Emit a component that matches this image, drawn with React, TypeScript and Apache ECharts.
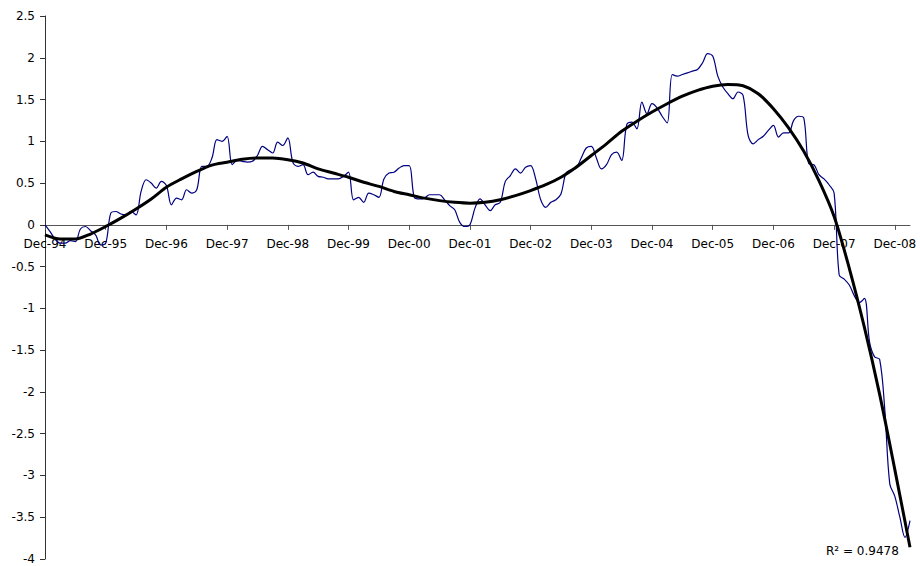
import React, { useEffect, useRef } from "react";
import * as echarts from "echarts";

// Month names used to build the monthly category labels (Dec-94 .. Mar-09)
const MONTH_NAMES = ["Jan", "Feb", "Mar", "Apr", "May", "Jun", "Jul", "Aug", "Sep", "Oct", "Nov", "Dec"];
const FIRST_MONTH = 11; // December
const FIRST_YEAR = 1994;
const MONTH_COUNT = 172;

const CATEGORIES: string[] = Array.from({ length: MONTH_COUNT }, (_, k) => {
  const m = (FIRST_MONTH + k) % 12;
  const y = FIRST_YEAR + Math.floor((FIRST_MONTH + k) / 12);
  return `${MONTH_NAMES[m]}-${String(y % 100).padStart(2, "0")}`;
});

// Monthly series (blue line)
const SERIES_VALUES: number[] = [
  0.0, -0.08, -0.17, -0.22, -0.22, -0.19, -0.2, -0.05, -0.02, -0.07, -0.12, -0.24,
  -0.22, 0.14, 0.16, 0.13, 0.12, 0.16, 0.12, 0.4, 0.54, 0.5, 0.44, 0.52,
  0.47, 0.24, 0.32, 0.3, 0.42, 0.38, 0.42, 0.7, 0.7, 0.8, 1.02, 1.0,
  1.06, 0.72, 0.77, 0.76, 0.75, 0.76, 0.83, 0.94, 0.9, 0.86, 0.99, 0.95,
  1.04, 0.75, 0.7, 0.72, 0.6, 0.63, 0.58, 0.57, 0.55, 0.55, 0.55, 0.58,
  0.63, 0.3, 0.33, 0.27, 0.38, 0.36, 0.33, 0.55, 0.62, 0.63, 0.68, 0.71,
  0.71, 0.33, 0.31, 0.32, 0.36, 0.36, 0.36, 0.3, 0.23, 0.18, 0.03, -0.02,
  0.0, 0.2, 0.31, 0.24, 0.17, 0.24, 0.27, 0.52, 0.59, 0.67, 0.62, 0.69,
  0.71, 0.55, 0.3, 0.21, 0.27, 0.3, 0.37, 0.62, 0.66, 0.68, 0.8, 0.92,
  0.94, 0.8, 0.67, 0.72, 0.84, 0.87, 0.77, 1.2, 1.23, 1.15, 1.47, 1.33,
  1.45, 1.4, 1.3, 1.22, 1.8, 1.78, 1.8, 1.82, 1.84, 1.86, 1.94, 2.05,
  2.02, 1.78, 1.65, 1.57, 1.51, 1.59, 1.55, 1.07, 0.97, 1.02, 1.06, 1.13,
  1.19, 1.05, 1.1, 1.1, 1.25, 1.3, 1.28, 0.73, 0.72, 0.6, 0.55, 0.48,
  0.38, -0.6, -0.65, -0.72, -0.85, -0.93, -0.88, -1.4, -1.58, -1.61, -2.2, -3.1,
  -3.25, -3.5, -3.74, -3.54,
];

// Trend line (polynomial fit), every 3 months
const TREND_MONTHS: number[] = [
  0, 3, 6, 9, 12, 15, 18, 21, 24, 27, 30, 33, 36, 39, 42, 45, 48, 51, 54, 57,
  60, 63, 66, 69, 72, 75, 78, 81, 84, 87, 90, 93, 96, 99, 102, 105, 108, 111, 114, 117,
  120, 123, 126, 129, 132, 135, 138, 141, 144, 147, 150, 153, 156, 159, 162, 165, 168, 171,
];
const TREND_VALUES: number[] = [
  -0.12, -0.17, -0.17, -0.11, -0.02, 0.08, 0.19, 0.31, 0.45, 0.55, 0.64, 0.715, 0.75, 0.785, 0.8, 0.8, 0.78, 0.74, 0.67, 0.62,
  0.57, 0.51, 0.46, 0.4, 0.36, 0.32, 0.29, 0.27, 0.26, 0.27, 0.3, 0.35, 0.41, 0.48, 0.57, 0.69, 0.83, 0.97, 1.12, 1.24,
  1.35, 1.45, 1.54, 1.61, 1.66, 1.68, 1.665, 1.57, 1.39, 1.16, 0.88, 0.53, 0.1, -0.52, -1.23, -2.03, -2.93, -3.86,
];

const R_SQUARED_TEXT = "R² = 0.9478";

const FONT = "DejaVu Sans";

const Y_MIN = -4;
const Y_MAX = 2.5;
const GRID_TOP = 16;
const GRID_BOTTOM = 7;
const CHART_H = 566;

export default function App() {
  const ref = useRef<HTMLDivElement>(null);

  useEffect(() => {
    if (!ref.current) return;
    const chart = echarts.init(ref.current, undefined, { renderer: "svg" });
    const trendData = TREND_MONTHS.map((m, i) => [m, TREND_VALUES[i]]);
    const every12 = (i: number) => i % 12 === 0;
    // move the category axis up from the grid bottom to the value 0
    const gridH = CHART_H - GRID_TOP - GRID_BOTTOM;
    const zeroOffset = -((0 - Y_MIN) / (Y_MAX - Y_MIN)) * gridH;

    chart.setOption({
      animation: false,
      grid: {
        left: 45,
        right: 10,
        top: GRID_TOP,
        bottom: GRID_BOTTOM,
        containLabel: false,
        outerBoundsMode: "none",
      },
      xAxis: {
        type: "category",
        data: CATEGORIES,
        boundaryGap: false,
        offset: zeroOffset,
        axisLine: { show: true, onZero: false, lineStyle: { color: "#555555", width: 1 } },
        axisTick: { show: true, interval: every12, length: 5, lineStyle: { color: "#555555" } },
        axisLabel: {
          interval: every12,
          margin: 13,
          color: "#000",
          fontFamily: FONT,
          fontSize: 12,
        },
        splitLine: { show: false },
      },
      yAxis: {
        type: "value",
        min: Y_MIN,
        max: Y_MAX,
        interval: 0.5,
        axisLine: { show: true, onZero: false, lineStyle: { color: "#333333", width: 1 } },
        axisTick: { show: true, length: 5, lineStyle: { color: "#333333" } },
        axisLabel: { margin: 10, color: "#000", fontFamily: FONT, fontSize: 12 },
        splitLine: { show: false },
      },
      graphic: [
        {
          type: "text",
          left: 826,
          top: 545,
          style: { text: R_SQUARED_TEXT, font: `12px "${FONT}"`, fill: "#000" },
        },
      ],
      series: [
        {
          type: "line",
          data: SERIES_VALUES,
          smooth: 0.35,
          symbol: "none",
          lineStyle: { color: "#000080", width: 1.2 },
          z: 2,
        },
        {
          type: "line",
          data: trendData,
          smooth: 0.3,
          symbol: "none",
          lineStyle: { color: "#000000", width: 3 },
          z: 3,
        },
      ],
    });

    return () => chart.dispose();
  }, []);

  return (
    <div
      ref={ref}
      style={{ position: "fixed", left: 0, top: 0, width: 920, height: CHART_H, background: "#fff" }}
    />
  );
}
